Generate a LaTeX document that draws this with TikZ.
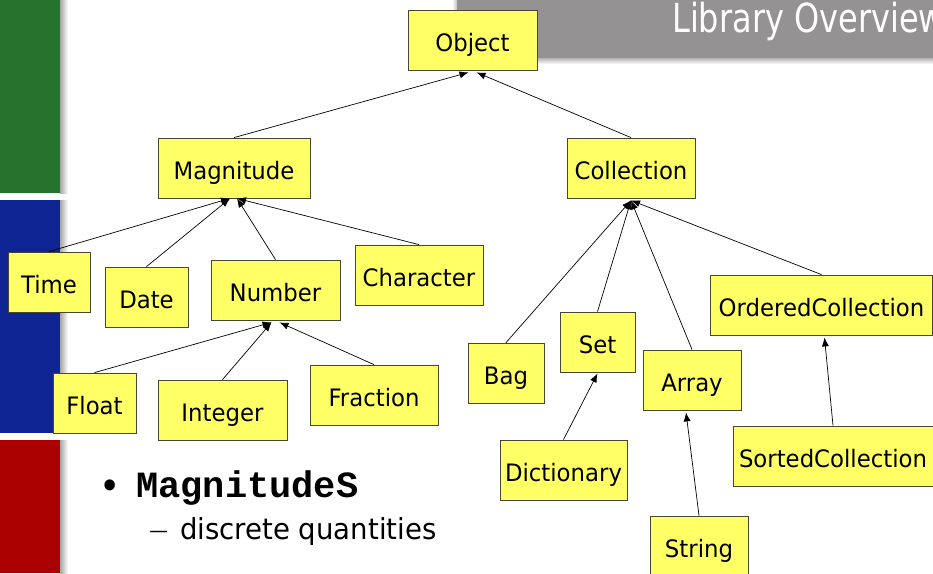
\documentclass[tikz,border=0pt]{standalone}
\usepackage{fontspec}
\setmainfont[FakeStretch=0.95]{DejaVu Sans}
\newfontfamily\titlefont[FakeStretch=0.8]{DejaVu Sans}
\newfontfamily\codefont{Liberation Mono}
\usetikzlibrary{arrows.meta}
\definecolor{boxfill}{RGB}{255,255,102}
\definecolor{boxline}{RGB}{70,70,50}
\definecolor{bargreen}{RGB}{38,115,43}
\definecolor{barblue}{RGB}{14,36,146}
\definecolor{barred}{RGB}{170,0,0}
\definecolor{bannergray}{RGB}{148,146,147}
\begin{document}
\begin{tikzpicture}[x=1pt,y=-1pt,
  cls/.style={draw=boxline, fill=boxfill, line width=0.8pt, inner sep=0pt,
    minimum height=60pt, text height=22pt, text depth=0pt,
    font=\fontsize{24}{28}\selectfont},
  inh/.style={draw=black, line width=0.7pt, -{Latex[length=9pt,width=7pt]}},
  shadowstrip/.style={left color=black!35, right color=white, draw=none}]
\useasboundingbox (0,0) rectangle (933,573);
\fill[white] (0,0) rectangle (933,573);
% left bars
\shade[shadowstrip] (60,0) rectangle (68,193);
\shade[shadowstrip] (60,200) rectangle (68,433);
\shade[shadowstrip] (60,440) rectangle (68,573);
\fill[bargreen] (0,0) rectangle (60,193);
\fill[barblue] (0,200) rectangle (60,433);
\fill[barred] (0,440) rectangle (60,573);
% banner
\shade[top color=black!30, bottom color=white, draw=none] (457,58) rectangle (933,64);
\shade[left color=white, right color=black!25, draw=none] (452,0) rectangle (457,60);
\fill[bannergray] (457,0) rectangle (933,58);
\node[anchor=base west, inner sep=0pt, text=white, font=\titlefont\fontsize{40}{44}\selectfont] (title) at (672,32) {Library Overview};
% classes
\node[cls, minimum width=129pt] (obj) at (472.5,40) {Object};
\node[cls, minimum width=152pt] (mag) at (234,168) {Magnitude};
\node[cls, minimum width=128pt] (col) at (631,168) {Collection};
\node[cls, minimum width=82pt] (time) at (49,282) {Time};
\node[cls, minimum width=83pt] (date) at (146.5,297) {Date};
\node[cls, minimum width=129pt] (num) at (275.5,290) {Number};
\node[cls, minimum width=128pt] (char) at (419,275) {Character};
\node[cls, minimum width=83pt] (float) at (94.5,403) {Float};
\node[cls, minimum width=129pt] (int) at (222.5,410) {Integer};
\node[cls, minimum width=128pt] (frac) at (374,395) {Fraction};
\node[cls, minimum width=76pt] (bag) at (506,373) {Bag};
\node[cls, minimum width=75pt] (set) at (597.5,342) {Set};
\node[cls, minimum width=98pt] (arr) at (692,380) {Array};
\node[cls, minimum width=222pt] (ord) at (821.5,305) {OrderedCollection};
\node[cls, minimum width=127pt] (dict) at (563.5,470) {Dictionary};
\node[cls, minimum width=98pt] (str) at (699,546) {String};
\node[cls, minimum width=200pt] (sorted) at (833,456) {SortedCollection};
% inheritance arrows
\draw[inh] (mag.north) -- ([xshift=-4pt,yshift=-2pt]obj.south);
\draw[inh] (col.north) -- ([xshift=4pt,yshift=-2pt]obj.south);
\draw[inh] (time.north) -- ([xshift=-4pt]mag.south);
\draw[inh] (date.north) -- ([xshift=-4pt]mag.south);
\draw[inh] (num.north) -- ([xshift=3pt]mag.south);
\draw[inh] (char.north) -- ([xshift=3pt]mag.south);
\draw[inh] (float.north) -- ([xshift=-4pt,yshift=-2pt]num.south);
\draw[inh] (int.north) -- ([xshift=-4pt,yshift=-2pt]num.south);
\draw[inh] (frac.north) -- ([xshift=4pt,yshift=-2pt]num.south);
\draw[inh] (bag.north) -- ([yshift=-2pt]col.south);
\draw[inh] (set.north) -- ([yshift=-2pt]col.south);
\draw[inh] (arr.north) -- ([yshift=-2pt]col.south);
\draw[inh] (ord.north) -- ([yshift=-2pt]col.south);
\draw[inh] (dict.north) -- ([yshift=-1pt]set.south);
\draw[inh] (str.north) -- ([xshift=-6pt,yshift=-2pt]arr.south);
\draw[inh] (sorted.north) -- ([xshift=3pt,yshift=-2pt]ord.south);
% bullet text
\node[anchor=base west, inner sep=0pt, font=\fontsize{38}{40}\selectfont] (bul) at (99,499) {•};
\node[anchor=base west, inner sep=0pt, font=\codefont\bfseries\fontsize{37}{40}\selectfont] (magtxt) at (136,497) {MagnitudeS};
\node[anchor=base west, inner sep=0pt, font=\fontsize{20}{24}\selectfont] (dash) at (149,537) {—};
\node[anchor=base west, inner sep=0pt, font=\fontsize{29}{34}\selectfont] (disc) at (180,539) {discrete quantities};
\end{tikzpicture}
\end{document}
